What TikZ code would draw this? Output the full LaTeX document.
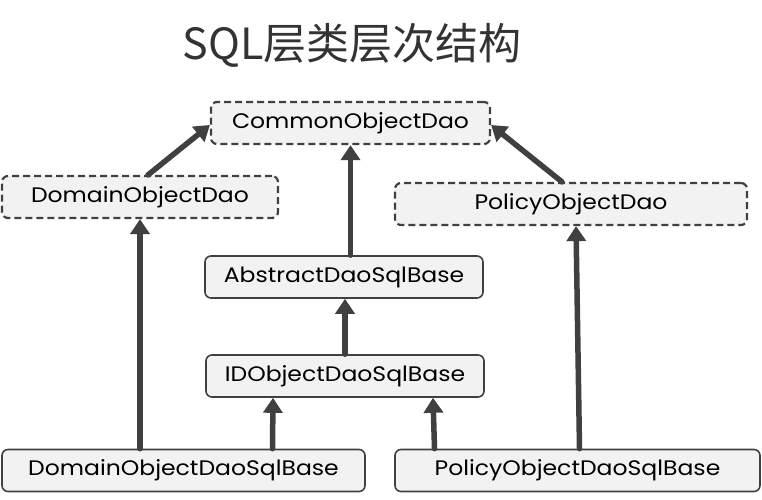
\documentclass[tikz,border=0pt]{standalone}
\usepackage{fontspec}
\setmainfont[FakeStretch=1.12]{Poppins}
\newfontfamily\cjk{Noto Sans CJK SC}
\usetikzlibrary{arrows.meta,positioning,shapes}

\begin{document}
\begin{tikzpicture}[x=1pt,y=-1pt,
  cls/.style={draw=black!75,line width=1.6pt,fill=black!5,rounded corners=6pt,
    minimum height=42pt,inner sep=0pt,font=\fontsize{21}{24}\selectfont},
  iface/.style={cls,dashed,dash pattern=on 7pt off 4pt,line width=2.2pt},
  inh/.style={draw=black!75,line width=5.5pt,line cap=round,
    -{Triangle[length=15pt,width=19pt,line cap=butt]}}]
\useasboundingbox (0,0) rectangle (762,499);
\node[font=\cjk\fontsize{43}{47}\selectfont,text=black!80] (title) at (352,45) {SQL层类层次结构};
\node[iface,minimum width=279pt] (common) at (350.5,123) {CommonObjectDao};
\node[iface,minimum width=276pt] (domdao) at (140,197) {DomainObjectDao};
\node[iface,minimum width=352pt] (poldao) at (571,204) {PolicyObjectDao};
\node[cls,minimum width=278pt] (abssql) at (344,277) {AbstractDaoSqlBase};
\node[cls,minimum width=278pt] (idsql) at (345,376) {IDObjectDaoSqlBase};
\node[cls,minimum width=363pt] (domsql) at (183.5,470.5) {DomainObjectDaoSqlBase};
\node[cls,minimum width=365pt] (polsql) at (577.5,470.5) {PolicyObjectDaoSqlBase};
% inheritance
\draw[inh] ([xshift=8pt]domdao.north) -- ([yshift=-2pt]common.west);
\draw[inh] ([xshift=-9pt]poldao.north) -- ([yshift=-2pt]common.east);
\draw[inh] (abssql.north -| common.south) -- (common.south);
\draw[inh] (idsql.north) -- (abssql.south -| idsql.north);
\draw[inh] (domsql.north -| domdao.south) -- (domdao.south);
\draw[inh] ([xshift=89pt]domsql.north) -- ([xshift=-72pt]idsql.south);
\draw[inh] ([xshift=-143pt]polsql.north) -- ([xshift=88pt]idsql.south);
\draw[inh] ([xshift=2pt]polsql.north) -- ([xshift=5pt]poldao.south);
\end{tikzpicture}
\end{document}
